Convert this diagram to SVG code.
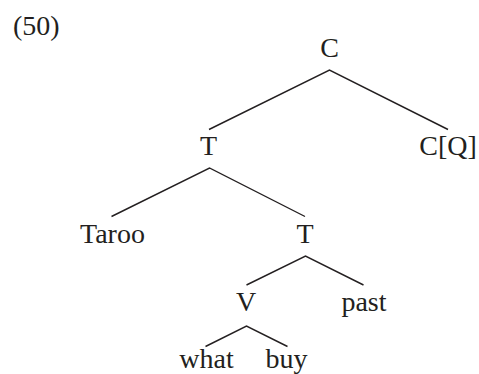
<svg xmlns="http://www.w3.org/2000/svg" width="479" height="374" viewBox="0 0 479 374">
<style>
text{font-family:"Liberation Serif","DejaVu Serif",serif;font-size:28px;fill:#231f20;text-anchor:middle}
.e{stroke:#231f20;stroke-width:1.4;fill:none}
</style>
<rect width="479" height="374" fill="#fff"/>
<text x="13" y="35" style="text-anchor:start">(50)</text>
<g id="connectors">
<path class="e" d="M209,129.5 L329.5,70 L448,129.5"/>
<path class="e" d="M111.5,216.5 L209.5,168 L305,216.5"/>
<path class="e" d="M246.5,285 L305.5,256 L363.5,285"/>
<path class="e" d="M205.5,346.5 L246.5,326 L287.5,346.5"/>
</g>
<g id="n-C"><text x="329.5" y="57">C</text></g>
<g id="n-T1"><text x="208.5" y="155">T</text></g>
<g id="n-CQ"><text x="448" y="155">C[Q]</text></g>
<g id="n-Taroo"><text x="112.5" y="243">Taroo</text></g>
<g id="n-T2"><text x="305" y="243">T</text></g>
<g id="n-V"><text x="246" y="311">V</text></g>
<g id="n-past"><text x="364" y="311">past</text></g>
<g id="n-what"><text x="206.5" y="368">what</text></g>
<g id="n-buy"><text x="286.5" y="368">buy</text></g>
</svg>
